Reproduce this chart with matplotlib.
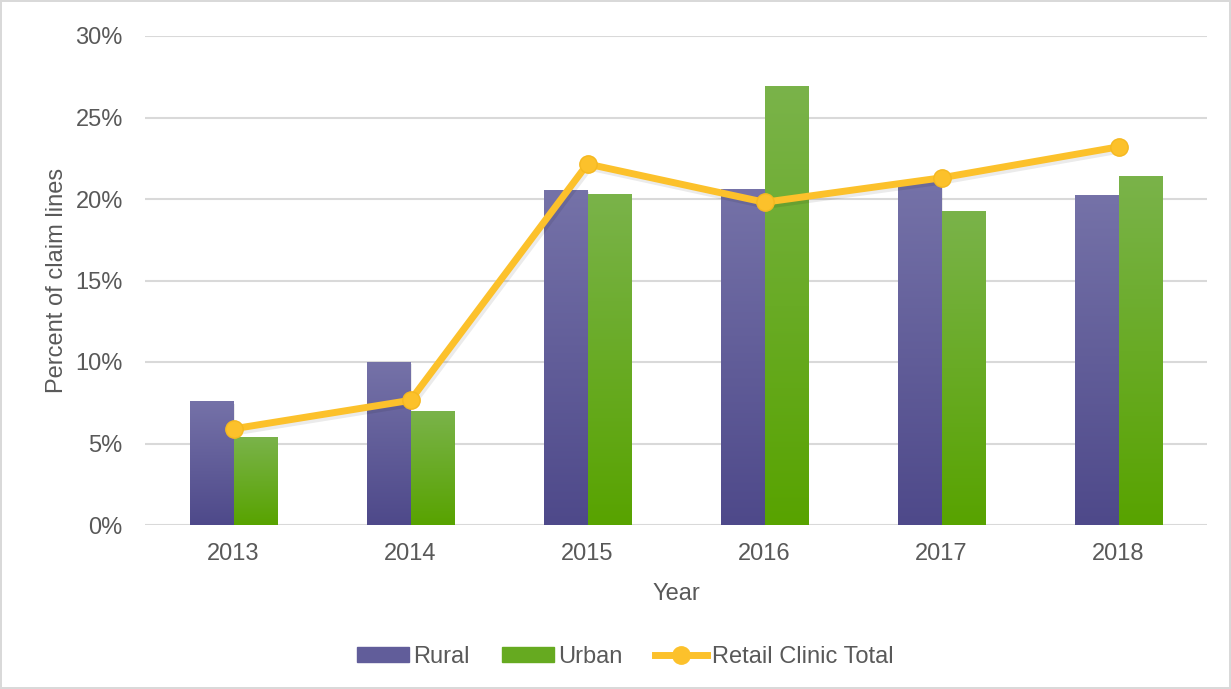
import numpy as np
import matplotlib.pyplot as plt
from matplotlib.colors import LinearSegmentedColormap
from matplotlib.patches import Rectangle
from matplotlib.lines import Line2D

years = ['2013', '2014', '2015', '2016', '2017', '2018']
rural = [7.55, 10.0, 20.5, 20.6, 21.0, 20.2]
urban = [5.35, 6.95, 20.25, 26.9, 19.25, 21.35]
retail_total = [5.9, 7.65, 22.15, 19.8, 21.3, 23.2]

plt.rcParams['font.family'] = ['Liberation Sans', 'DejaVu Sans']
txt = '#595959'
fs = 17

fig = plt.figure(figsize=(12.31, 6.89), dpi=100)
fig.patch.set_edgecolor('#d9d9d9')
fig.patch.set_linewidth(1.5)
ax = fig.add_axes([145 / 1231, (689 - 525) / 689, 1062 / 1231, 489 / 689])

x = np.arange(len(years))
w = 0.243
purple = LinearSegmentedColormap.from_list('', ['#4e498a', '#7572a8'])
green = LinearSegmentedColormap.from_list('', ['#58a300', '#7ab34a'])
grad = np.linspace(0, 1, 256).reshape(-1, 1)

def gradient_bars(xs, heights, cmap):
    bars = ax.bar(xs, heights, w, color='none', zorder=2)
    for b in bars:
        x0, y0 = b.get_x(), b.get_y()
        # soft drop shadow
        ax.add_patch(Rectangle((x0 + 0.01, y0), b.get_width(), b.get_height() - 0.1,
                               color='#000000', alpha=0.08, zorder=1.9, lw=0))
        ax.imshow(grad, cmap=cmap, origin='lower', aspect='auto', zorder=2,
                  extent=[x0, x0 + b.get_width(), y0, y0 + b.get_height()])

gradient_bars(x - w / 2, rural, purple)
gradient_bars(x + w / 2, urban, green)

ax.plot(x + 0.01, np.array(retail_total) - 0.15, color='#000000', alpha=0.08,
        lw=6, zorder=2.9, solid_capstyle='round')
ax.plot(x, retail_total, color='#fcc12b', lw=5, marker='o', markersize=12.5,
        markeredgecolor='#f5b820', zorder=3, solid_capstyle='round')

ax.set_xlim(-0.5, len(years) - 0.5)
ax.set_ylim(0, 30)
ax.set_yticks(range(0, 31, 5))
ax.set_yticklabels([f'{v}%' for v in range(0, 31, 5)])
ax.set_xticks(x)
ax.set_xticklabels(years)
ax.yaxis.grid(True, color='#d9d9d9', lw=1.5, zorder=0)
ax.set_axisbelow(True)
for s in ax.spines.values():
    s.set_visible(False)
ax.tick_params(length=0, labelsize=fs, colors=txt)
ax.tick_params(axis='x', pad=13)
ax.tick_params(axis='y', pad=16)
ax.set_xlabel('Year', fontsize=fs, color=txt, labelpad=13)
ax.set_ylabel('Percent of claim lines', fontsize=fs, color=txt, labelpad=5)

handles = [Rectangle((0, 0), 1, 1, color='#615d9a'),
           Rectangle((0, 0), 1, 1, color='#66aa20'),
           Line2D([0], [0], color='#fcc12b', lw=5, marker='o', markersize=12.5)]
fig.legend(handles, ['Rural', 'Urban', 'Retail Clinic Total'], loc='center',
           bbox_to_anchor=(625 / 1231, 1 - 657 / 689), ncol=3, frameon=False,
           fontsize=fs, labelcolor=txt, handlelength=2.2, handleheight=0.6,
           handletextpad=0.2, columnspacing=1.35)

fig.savefig('out.png', dpi=100)
